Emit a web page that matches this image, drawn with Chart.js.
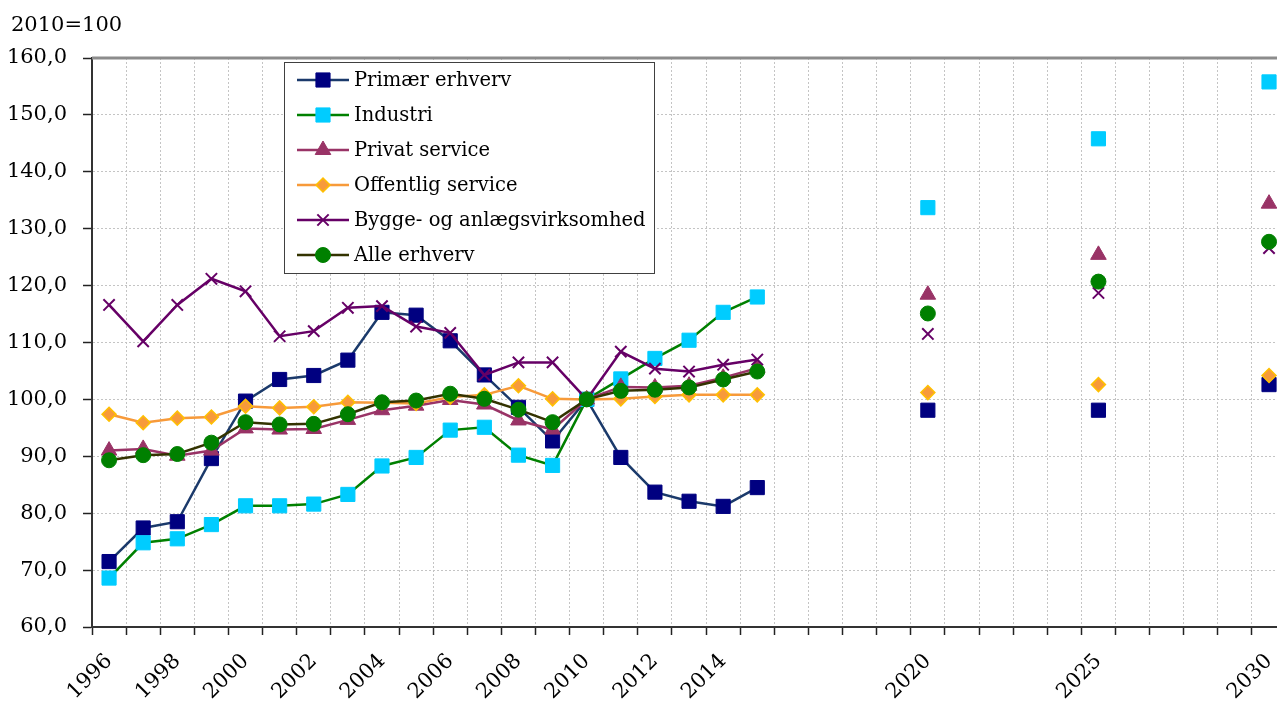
<!DOCTYPE html>
<html>
<head>
<meta charset="utf-8">
<script src="https://cdn.jsdelivr.net/npm/chart.js@4.4.1/dist/chart.umd.min.js"></script>
<style>
html, body { margin: 0; padding: 0; background: #fff; overflow: hidden; }
</style>
</head>
<body>
<canvas id="chart" width="1301" height="702"></canvas>
<script>
// categories: one per year, 1996-2030
var years = [1996, 1997, 1998, 1999, 2000, 2001, 2002, 2003, 2004, 2005,
             2006, 2007, 2008, 2009, 2010, 2011, 2012, 2013, 2014, 2015,
             2016, 2017, 2018, 2019, 2020, 2021, 2022, 2023, 2024, 2025,
             2026, 2027, 2028, 2029, 2030];
var tickYears = [1996, 1998, 2000, 2002, 2004, 2006, 2008, 2010, 2012, 2014, 2020, 2025, 2030];
var projYears = [2020, 2025, 2030];

// historical values 1996-2015
var primaer   = [71.5, 77.4, 78.5, 89.6, 99.7, 103.5, 104.2, 106.9, 115.3, 114.8, 110.3, 104.3, 98.6, 92.7, 100.0, 89.8, 83.7, 82.1, 81.2, 84.5];
var industri  = [68.6, 74.8, 75.5, 78.0, 81.3, 81.3, 81.6, 83.3, 88.3, 89.8, 94.6, 95.1, 90.2, 88.4, 100.0, 103.6, 107.2, 110.4, 115.3, 118.0];
var privat    = [91.0, 91.3, 90.1, 91.0, 94.9, 94.7, 94.8, 96.4, 98.1, 98.9, 99.9, 99.1, 96.3, 94.7, 100.0, 102.2, 102.1, 102.4, 103.8, 105.5];
var offentlig = [97.4, 95.9, 96.7, 96.9, 98.8, 98.5, 98.7, 99.5, 99.4, 99.3, 100.4, 100.8, 102.4, 100.1, 100.0, 100.1, 100.5, 100.8, 100.8, 100.8];
var bygge     = [116.6, 110.2, 116.6, 121.2, 119.0, 111.1, 112.0, 116.1, 116.4, 112.8, 111.7, 104.3, 106.5, 106.5, 100.0, 108.4, 105.4, 104.9, 106.1, 107.0];
var alle      = [89.3, 90.2, 90.4, 92.4, 96.0, 95.6, 95.7, 97.4, 99.5, 99.8, 101.0, 100.1, 98.2, 96.0, 100.0, 101.5, 101.7, 102.1, 103.5, 104.9];

// projections 2020, 2025, 2030
var primaerProj   = [98.1, 98.1, 102.6];
var industriProj  = [133.7, 145.8, 155.8];
var privatProj    = [118.4, 125.4, 134.4];
var offentligProj = [101.2, 102.6, 104.2];
var byggeProj     = [111.5, 118.7, 126.6];
var alleProj      = [115.1, 120.7, 127.7];

function series(hist, proj) {
  return years.map(function (y) {
    if (y <= 2015) return hist[y - 1996];
    var j = projYears.indexOf(y);
    return j >= 0 ? proj[j] : null;
  });
}

Chart.defaults.font.family = "'DejaVu Serif', serif";
Chart.defaults.font.size = 21;
Chart.defaults.color = '#000';

var legendBox = {
  id: 'legendBox',
  afterDraw: function (chart) {
    var c = chart.ctx, a = chart.chartArea;
    var x0 = a.left + 192, y0 = a.top + 4, rowH = 35;
    c.save();
    c.font = "19.5px 'DejaVu Serif'";
    var maxW = 0;
    chart.data.datasets.forEach(function (d) {
      maxW = Math.max(maxW, c.measureText(d.label).width);
    });
    var w = Math.round(70 + maxW + 8), h = rowH * 6 + 1;
    c.fillStyle = '#fff';
    c.fillRect(x0, y0, w, h);
    c.strokeStyle = '#404040';
    c.lineWidth = 1;
    c.strokeRect(x0 + 0.5, y0 + 0.5, w, h);
    chart.data.datasets.forEach(function (d, i) {
      var y = y0 + 18 + i * rowH;
      c.strokeStyle = d.borderColor;
      c.lineWidth = 2.5;
      c.beginPath();
      c.moveTo(x0 + 13, y);
      c.lineTo(x0 + 65, y);
      c.stroke();
      c.fillStyle = d.pointBackgroundColor;
      c.strokeStyle = d.pointBorderColor;
      c.lineWidth = d.pointBorderWidth;
      Chart.helpers.drawPoint(c, {pointStyle: d.pointStyle, radius: d.pointRadius, borderWidth: d.pointBorderWidth, rotation: 0}, x0 + 39, y);
      c.fillStyle = '#000';
      c.textBaseline = 'middle';
      c.textAlign = 'left';
      c.fillText(d.label, x0 + 70, y + 1);
    });
    c.restore();
  }
};

var frame = {
  id: 'frame',
  beforeDatasetsDraw: function (chart) {
    var c = chart.ctx, a = chart.chartArea;
    c.save();
    c.strokeStyle = '#8c8c8c';
    c.lineWidth = 3;
    c.beginPath();
    c.moveTo(a.left, a.top);
    c.lineTo(a.right, a.top);
    c.stroke();
    c.restore();
  },
  afterDraw: function (chart) {
    var c = chart.ctx;
    c.save();
    c.font = "21px 'DejaVu Serif'";
    c.fillStyle = '#000';
    c.textBaseline = 'middle';
    c.fillText('2010=100', 11, 26);
    c.restore();
  }
};

function ds(label, data, line, fillCol, borderCol, style, radius, bw, order) {
  return {
    label: label,
    data: data,
    borderColor: line,
    borderWidth: 2.5,
    pointStyle: style,
    pointRadius: radius,
    pointHoverRadius: radius,
    pointBackgroundColor: fillCol,
    pointBorderColor: borderCol,
    pointBorderWidth: bw,
    tension: 0,
    fill: false,
    spanGaps: false,
    order: order
  };
}

var grid = {
  offset: true,
  color: '#c4c4c4',
  lineWidth: 1,
  tickColor: '#222',
  tickWidth: 1.5,
  tickBorderDash: []
};

var ctx = document.getElementById('chart');
var myChart = new Chart(ctx, {
  type: 'line',
  data: {
    labels: years.map(String),
    datasets: [
      ds('Primær erhverv', series(primaer, primaerProj), '#1b3a6b', '#000080', '#000080', 'rect', 10, 1, 6),
      ds('Industri', series(industri, industriProj), '#008000', '#00ccff', '#00ccff', 'rect', 10, 1, 5),
      ds('Privat service', series(privat, privatProj), '#993366', '#993366', '#993366', 'triangle', 9, 1, 4),
      ds('Offentlig service', series(offentlig, offentligProj), '#f79a3a', '#f79a3a', '#ffc000', 'rectRot', 7, 1.5, 3),
      ds('Bygge- og anlægsvirksomhed', series(bygge, byggeProj), '#660066', '#660066', '#660066', 'crossRot', 8, 2, 2),
      ds('Alle erhverv', series(alle, alleProj), '#333300', '#008000', '#008000', 'circle', 7.5, 1, 1)
    ]
  },
  options: {
    responsive: false,
    animation: false,
    devicePixelRatio: 1,
    layout: { padding: { top: 58, left: 0, right: 1, bottom: 0 } },
    plugins: {
      legend: { display: false },
      tooltip: { enabled: false },
      title: { display: false }
    },
    scales: {
      x: {
        offset: true,
        grid: Object.assign({}, grid, { tickLength: 8 }),
        border: { color: '#333', width: 2, dash: [2, 2] },
        ticks: {
          autoSkip: false,
          maxRotation: 45,
          minRotation: 45,
          padding: 14,
          callback: function (v, i) {
            var y = years[i];
            return tickYears.indexOf(y) >= 0 ? String(y) : '';
          }
        },
        afterFit: function (s) { s.height = 75; }
      },
      y: {
        min: 60,
        max: 160,
        grid: Object.assign({}, grid, { offset: false, tickLength: 9 }),
        border: { color: '#333', width: 2, dash: [2, 2] },
        ticks: {
          stepSize: 10,
          padding: 16,
          callback: function (v) { return v.toFixed(1).replace('.', ','); }
        },
        afterFit: function (s) { s.width = 92; }
      }
    }
  },
  plugins: [frame, legendBox]
});
</script>
</body>
</html>
